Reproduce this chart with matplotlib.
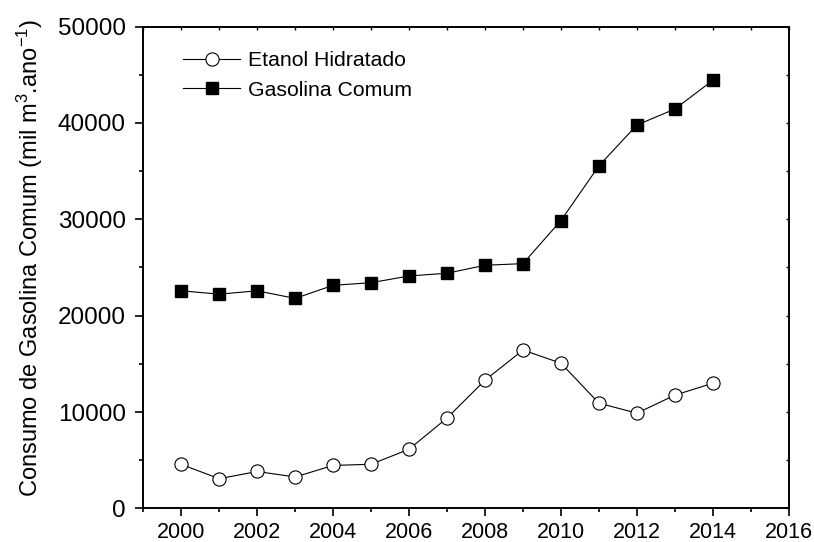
import matplotlib
matplotlib.use("Agg")
import matplotlib.pyplot as plt
from matplotlib.ticker import MultipleLocator

plt.rcParams['font.family'] = ['Liberation Sans', 'DejaVu Sans']
plt.rcParams['mathtext.fontset'] = 'custom'
plt.rcParams['mathtext.rm'] = 'Liberation Sans'
plt.rcParams['mathtext.it'] = 'Liberation Sans:italic'

anos = [2000, 2001, 2002, 2003, 2004, 2005, 2006, 2007,
        2008, 2009, 2010, 2011, 2012, 2013, 2014]
etanol_hidratado = [4570, 3080, 3830, 3260, 4460, 4580, 6140, 9380,
                    13300, 16430, 15070, 10920, 9880, 11750, 12990]
gasolina_comum = [22580, 22230, 22580, 21790, 23150, 23420, 24120, 24400,
                  25230, 25400, 29870, 35550, 39780, 41440, 44420]

fig = plt.figure(figsize=(8.14, 5.42), dpi=100)
ax = fig.add_axes([0.176, 0.062, 0.793, 0.889])

ax.plot(anos, etanol_hidratado, color='black', lw=0.8, marker='o', ms=9.5,
        mfc='white', mec='black', mew=0.8, label='Etanol Hidratado')
ax.plot(anos, gasolina_comum, color='black', lw=0.8, marker='s', ms=8.5,
        mfc='black', mec='black', label='Gasolina Comum')

ax.set_xlim(1999, 2016)
ax.set_ylim(0, 50000)
ax.xaxis.set_major_locator(MultipleLocator(2))
ax.xaxis.set_minor_locator(MultipleLocator(1))
ax.yaxis.set_major_locator(MultipleLocator(10000))
ax.yaxis.set_minor_locator(MultipleLocator(5000))

for s in ax.spines.values():
    s.set_linewidth(1.4)

ax.tick_params(which='both', width=1.2, direction='out')
ax.tick_params(which='major', length=5.5)
ax.tick_params(which='minor', length=3)
ax.tick_params(axis='x', which='major', labelsize=15.5, pad=4.5)
ax.tick_params(axis='y', which='major', labelsize=17.5, pad=7)

# ticks pequenos para dentro em cima e a direita
sec_x = ax.secondary_xaxis('top')
sec_x.xaxis.set_major_locator(MultipleLocator(1))
sec_x.tick_params(direction='in', length=2, width=1, labeltop=False)
sec_x.spines['top'].set_visible(False)
sec_y = ax.secondary_yaxis('right')
sec_y.yaxis.set_major_locator(MultipleLocator(5000))
sec_y.tick_params(direction='in', length=2, width=1, labelright=False)
sec_y.spines['right'].set_visible(False)

ax.set_ylabel('Consumo de Gasolina Comum (mil m$^3$.ano$^{-1}$)', fontsize=17)
ax.yaxis.label.set_va('center')
ax.yaxis.set_label_coords(-0.1755, 0.52)

ax.legend(loc='upper left', frameon=False, fontsize=15.3, handlelength=2.65,
          handletextpad=0.38, labelspacing=0.5, borderaxespad=0,
          bbox_to_anchor=(0.049, 0.967))

fig.savefig('out.png', dpi=100)
